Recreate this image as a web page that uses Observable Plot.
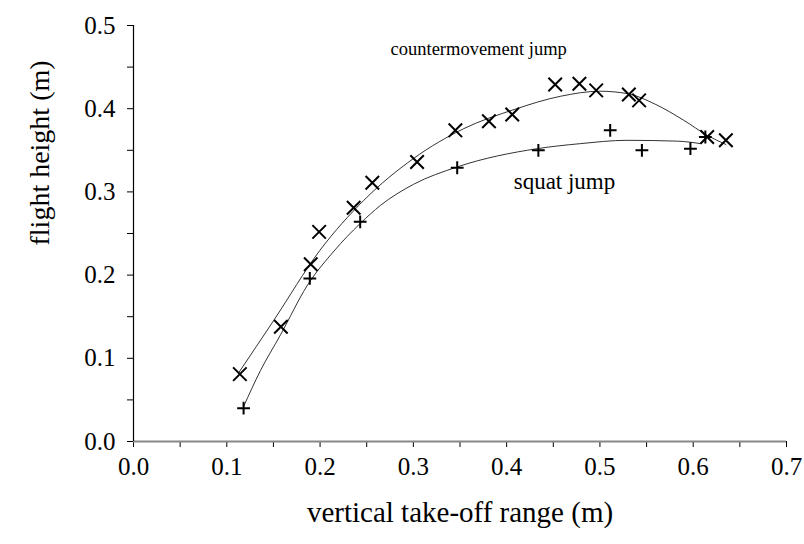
<!DOCTYPE html>
<html>
<head>
<meta charset="utf-8">
<script src="https://cdn.jsdelivr.net/npm/d3@7"></script>
<script src="https://cdn.jsdelivr.net/npm/@observablehq/plot@0.6"></script>
<style>
  html, body { margin: 0; padding: 0; background: #fff; }
  #chart svg { display: block; }
  #chart svg text { font-family: 'Liberation Serif', 'Times New Roman', serif; }
</style>
</head>
<body>
<div id="chart"></div>
<script>
// Countermovement jump measured points (×)
const cmjX = [0.114, 0.158, 0.190, 0.199, 0.236, 0.256, 0.304, 0.345, 0.381, 0.406, 0.452, 0.478, 0.496, 0.531, 0.542, 0.615, 0.635];
const cmjY = [0.081, 0.138, 0.213, 0.252, 0.281, 0.311, 0.336, 0.374, 0.385, 0.393, 0.429, 0.430, 0.422, 0.417, 0.410, 0.366, 0.362];

// Squat jump measured points (+)
const sjX = [0.118, 0.189, 0.243, 0.347, 0.434, 0.511, 0.545, 0.597, 0.613];
const sjY = [0.040, 0.196, 0.264, 0.329, 0.350, 0.374, 0.350, 0.352, 0.366];

// Fitted curves
const cmjFitX = [0.113, 0.150, 0.200, 0.247, 0.300, 0.354, 0.408, 0.458, 0.500, 0.530, 0.560, 0.590, 0.615, 0.635];
const cmjFitY = [0.083, 0.145, 0.230, 0.290, 0.340, 0.376, 0.399, 0.415, 0.421, 0.418, 0.405, 0.386, 0.368, 0.357];
const sjFitX = [0.118, 0.136, 0.158, 0.186, 0.215, 0.243, 0.265, 0.300, 0.347, 0.433, 0.479, 0.529, 0.583, 0.608];
const sjFitY = [0.042, 0.085, 0.129, 0.187, 0.229, 0.262, 0.284, 0.309, 0.330, 0.352, 0.358, 0.362, 0.361, 0.358];

// Axes
const xTicks = [0, 0.1, 0.2, 0.3, 0.4, 0.5, 0.6, 0.7];
const xTickLabels = ["0.0", "0.1", "0.2", "0.3", "0.4", "0.5", "0.6", "0.7"];
const xMinor = [0.05, 0.15, 0.25, 0.35, 0.45, 0.55, 0.65];
const yTicks = [0, 0.1, 0.2, 0.3, 0.4, 0.5];
const yTickLabels = ["0.0", "0.1", "0.2", "0.3", "0.4", "0.5"];
const yMinor = [0.05, 0.15, 0.25, 0.35, 0.45];

const xTitle = "vertical take-off range (m)";
const yTitle = "flight height (m)";
const cmjLabel = [{x: 0.37, y: 0.472, text: "countermovement jump"}];
const sjLabel = [{x: 0.462, y: 0.312, text: "squat jump"}];

const cmj = cmjX.map((x, i) => ({x, y: cmjY[i]}));
const sj = sjX.map((x, i) => ({x, y: sjY[i]}));
const cmjFit = cmjFitX.map((x, i) => ({x, y: cmjFitY[i]}));
const sjFit = sjFitX.map((x, i) => ({x, y: sjFitY[i]}));

const serif = "'Liberation Serif', 'Times New Roman', serif";

const chart = Plot.plot({
  width: 804,
  height: 544,
  marginLeft: 133,
  marginRight: 18,
  marginTop: 25,
  marginBottom: 103,
  style: {fontFamily: serif, background: "#fff", color: "#000"},
  x: {domain: [0, 0.7]},
  y: {domain: [0, 0.5]},
  marks: [
    Plot.axisX(xTicks, {tickSize: 6, tickPadding: 10, fontSize: 25, fontFamily: serif, stroke: "#000", tickFormat: d => xTickLabels[xTicks.indexOf(d)], label: null}),
    Plot.axisX(xMinor, {tickSize: 6, tickFormat: () => "", stroke: "#000", label: null}),
    Plot.axisY(yTicks, {tickSize: 6, tickPadding: 12, fontSize: 25, fontFamily: serif, stroke: "#000", tickFormat: d => yTickLabels[yTicks.indexOf(d)], label: null}),
    Plot.axisY(yMinor, {tickSize: 6, tickFormat: () => "", stroke: "#000", label: null}),
    Plot.ruleY([0], {stroke: "#888", strokeWidth: 2}),
    Plot.ruleX([0], {stroke: "#000", strokeWidth: 1.2}),
    Plot.line(cmjFit, {x: "x", y: "y", curve: "monotone-x", stroke: "#333", strokeWidth: 1}),
    Plot.line(sjFit, {x: "x", y: "y", curve: "monotone-x", stroke: "#333", strokeWidth: 1}),
    Plot.dot(cmj, {x: "x", y: "y", symbol: "times", r: 6.2, stroke: "#000", strokeWidth: 2}),
    Plot.dot(sj, {x: "x", y: "y", symbol: "plus", r: 4.2, stroke: "#000", strokeWidth: 2}),
    Plot.text(cmjLabel, {x: "x", y: "y", text: "text", fontSize: 18.5, fontFamily: serif, fill: "#000", textAnchor: "middle"}),
    Plot.text(sjLabel, {x: "x", y: "y", text: "text", fontSize: 23, fontFamily: serif, fill: "#000", textAnchor: "middle"}),
    Plot.text([xTitle], {frameAnchor: "bottom", dy: 80, fontSize: 29, fontFamily: serif, fill: "#000"}),
    Plot.text([yTitle], {frameAnchor: "left", dx: -93, dy: 12, rotate: -90, fontSize: 28, fontFamily: serif, fill: "#000"})
  ]
});
document.getElementById("chart").appendChild(chart);
</script>
</body>
</html>
